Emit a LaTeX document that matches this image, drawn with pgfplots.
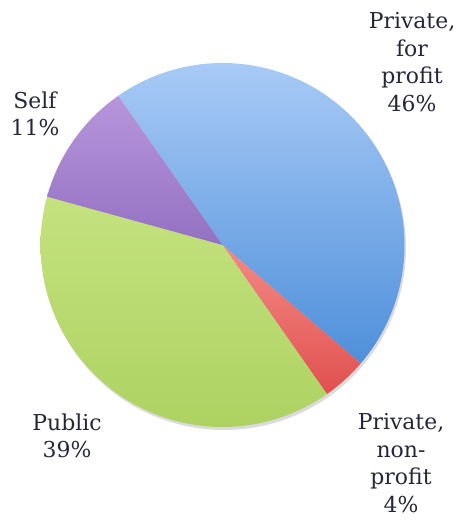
\documentclass[border=0pt]{standalone}
\usepackage{pgfplots}
\pgfplotsset{compat=1.18}
\usepackage{fontspec}
\setmainfont{DejaVu Serif}
\definecolor{blueA}{HTML}{A8CAF6}
\definecolor{blueB}{HTML}{4E8FDA}
\definecolor{redA}{HTML}{F48A86}
\definecolor{redB}{HTML}{E0504E}
\definecolor{greenA}{HTML}{C4E27E}
\definecolor{greenB}{HTML}{AED262}
\definecolor{purpA}{HTML}{B796DC}
\definecolor{purpB}{HTML}{9470C2}
\definecolor{txt}{HTML}{26263A}
\begin{document}
\begin{tikzpicture}
% shares in percent
\def\pPriv{46}
\def\pNon{4}
\def\pPub{39}
\def\pSelf{11}
\pgfmathsetmacro{\cx}{222.5}
\pgfmathsetmacro{\cy}{245}
\pgfmathsetmacro{\R}{182}
\pgfmathsetmacro{\aA}{125}
\pgfmathsetmacro{\aB}{\aA-3.6*\pPriv}
\pgfmathsetmacro{\aC}{\aB-3.6*\pNon}
\pgfmathsetmacro{\aD}{\aC-3.6*\pPub}
\pgfmathsetmacro{\aE}{\aD-3.6*\pSelf}
\begin{axis}[hide axis, scale only axis, width=463bp, height=520bp,
  xmin=0, xmax=463, ymin=0, ymax=520, y dir=reverse, clip=false, samples=90]
\path (axis cs:0,0) rectangle (axis cs:463,520);
\addplot[fill=black!14, draw=none, domain=0:360, samples=160]
  ({\cx+1.5+\R*cos(x)},{\cy+3-\R*sin(x)}) -- cycle;
\addplot[draw=none, top color=blueA, bottom color=blueB, domain=\aB:\aA]
  ({\cx+\R*cos(x)},{\cy-\R*sin(x)}) -- (axis cs:\cx,\cy) -- cycle;
\addplot[draw=none, top color=redA, bottom color=redB, domain=\aC:\aB]
  ({\cx+\R*cos(x)},{\cy-\R*sin(x)}) -- (axis cs:\cx,\cy) -- cycle;
\addplot[draw=none, top color=greenA, bottom color=greenB, domain=\aD:\aC]
  ({\cx+\R*cos(x)},{\cy-\R*sin(x)}) -- (axis cs:\cx,\cy) -- cycle;
\addplot[draw=none, top color=purpA, bottom color=purpB, domain=\aE:\aD]
  ({\cx+\R*cos(x)},{\cy-\R*sin(x)}) -- (axis cs:\cx,\cy) -- cycle;
\tikzset{lab/.style={align=center, text=txt, inner sep=0pt, font=\fontsize{22}{27.5}\selectfont}}
\node[lab] at (axis cs:412,62) {Private,\\for\\profit\\46\%};
\node[lab] at (axis cs:401,463) {Private,\\non-\\profit\\4\%};
\node[lab] at (axis cs:67,436) {Public\\39\%};
\node[lab] at (axis cs:35,114) {Self\\11\%};
\end{axis}
\end{tikzpicture}
\end{document}
